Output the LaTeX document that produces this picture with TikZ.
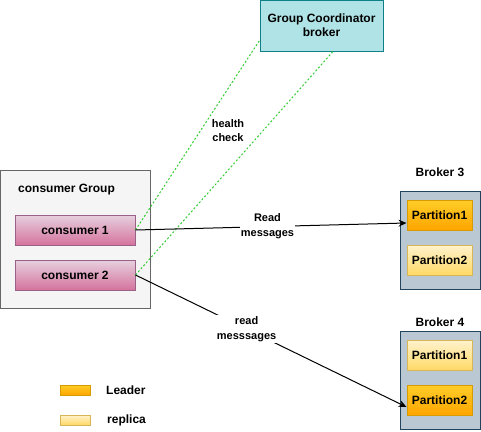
\documentclass[tikz,border=0pt]{standalone}
\usepackage{fontspec}
\setmainfont{Liberation Sans}
\usetikzlibrary{arrows.meta,positioning}
\definecolor{gcfill}{HTML}{B0E3E6}
\definecolor{gcdraw}{HTML}{0E8088}
\definecolor{grpfill}{HTML}{F5F5F5}
\definecolor{grpdraw}{HTML}{666666}
\definecolor{contop}{HTML}{E6D0DE}
\definecolor{conbot}{HTML}{D5739D}
\definecolor{condraw}{HTML}{996185}
\definecolor{brkfill}{HTML}{BAC8D3}
\definecolor{brkdraw}{HTML}{23445D}
\definecolor{leadtop}{HTML}{FFCD28}
\definecolor{leadbot}{HTML}{FFA500}
\definecolor{leaddraw}{HTML}{D79B00}
\definecolor{reptop}{HTML}{FFF2CC}
\definecolor{repbot}{HTML}{FFD966}
\definecolor{repdraw}{HTML}{D6B656}
\definecolor{hcgreen}{HTML}{33CC33}
\tikzset{
  lbl/.style={font=\fontsize{12}{14}\selectfont\bfseries, inner sep=0pt, align=center},
  smalllbl/.style={font=\fontsize{11}{15}\selectfont\bfseries, inner sep=1pt, align=center, fill=white},
  coordbox/.style={lbl, draw=gcdraw, fill=gcfill, line width=1pt, minimum width=123pt, minimum height=51pt},
  groupbox/.style={draw=grpdraw, fill=grpfill, line width=1pt, minimum width=150pt, minimum height=138pt, inner sep=0pt},
  consbox/.style={lbl, draw=condraw, top color=contop, bottom color=conbot, line width=1pt, minimum width=120pt, minimum height=30pt},
  brokerbox/.style={draw=brkdraw, fill=brkfill, line width=1pt, minimum width=80pt, minimum height=98pt, inner sep=0pt},
  leadbox/.style={lbl, draw=leaddraw, top color=leadtop, bottom color=leadbot, line width=1pt, minimum width=65pt, minimum height=30pt},
  repbox/.style={lbl, draw=repdraw, top color=reptop, bottom color=repbot, line width=1pt, minimum width=65pt, minimum height=30pt},
  leadleg/.style={draw=leaddraw, top color=leadtop, bottom color=leadbot, line width=1pt, minimum width=30pt, minimum height=10pt, inner sep=0pt},
  repleg/.style={draw=repdraw, top color=reptop, bottom color=repbot, line width=1pt, minimum width=30pt, minimum height=10pt, inner sep=0pt},
  hcline/.style={draw=hcgreen, line width=1pt, dash pattern=on 2pt off 2pt},
  msgarrow/.style={draw=black, line width=1pt, -{Stealth[length=8pt,width=7pt]}},
}
\begin{document}
\begin{tikzpicture}[x=1pt,y=-1pt]
\useasboundingbox (0,0) rectangle (481,431);
% coordinator
\node[coordbox] (gc) at (321.5,25.5) {Group Coordinator\\broker};
% consumer group
\node[groupbox] (grp) at (75,239) {};
\node[lbl, anchor=west] (grplbl) at (18,190) {consumer Group};
\node[consbox] (c1) at (75,230) {consumer 1};
\node[consbox] (c2) at (75,275) {consumer 2};
% brokers
\node[lbl] (b3lbl) at (440,172) {Broker 3};
\node[brokerbox] (b3) at (440,240) {};
\node[leadbox] (p31) at (439.5,215) {Partition1};
\node[repbox] (p32) at (439.5,260) {Partition2};
\node[lbl] (b4lbl) at (440,322) {Broker 4};
\node[brokerbox] (b4) at (440,380.5) {};
\node[repbox] (p41) at (439.5,355.5) {Partition1};
\node[leadbox] (p42) at (439.5,400) {Partition2};
% legend
\node[leadleg] (legl) at (75,390) {};
\node[lbl, anchor=west] (legltxt) at (106,390) {Leader};
\node[repleg] (legr) at (75,420) {};
\node[lbl, anchor=west] (legrtxt) at (107,420) {replica};
% health check
\draw[hcline] (c1.east) -- ([yshift=-15pt]gc.west);
\draw[hcline] (c2.east) -- ([xshift=11.5pt]gc.south);
\node[lbl, font=\fontsize{11}{14}\selectfont\bfseries] (hc) at (228,131) {health\\check};
% messages
\draw[msgarrow] (c1.east) -- node[smalllbl, pos=0.487] (rm1) {Read\\messages} ([yshift=-8pt]p31.west);
\draw[msgarrow] (c2.east) -- node[smalllbl, pos=0.41] (rm2) {read\\messsages} ([yshift=-7pt]p42.west);
\end{tikzpicture}
\end{document}
